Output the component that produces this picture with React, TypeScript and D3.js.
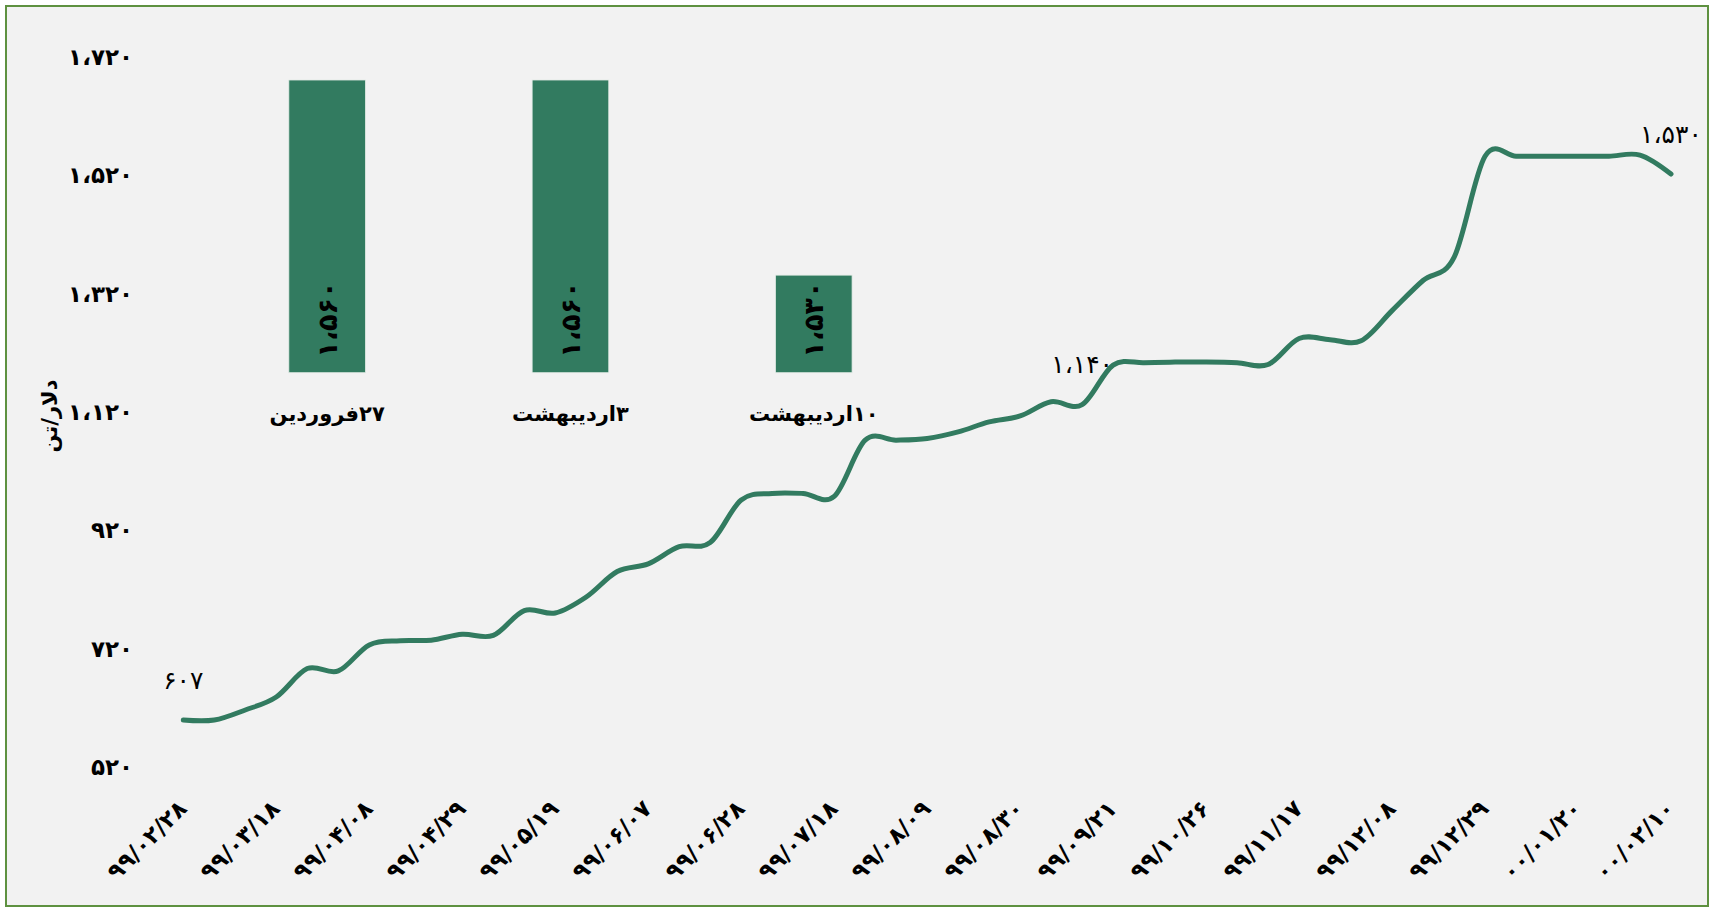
import React from "react";
import * as d3 from "d3";

// ---- data ----
const tickLabels = [
  "۹۹/۰۲/۲۸", "۹۹/۰۳/۱۸", "۹۹/۰۴/۰۸", "۹۹/۰۴/۲۹", "۹۹/۰۵/۱۹", "۹۹/۰۶/۰۷",
  "۹۹/۰۶/۲۸", "۹۹/۰۷/۱۸", "۹۹/۰۸/۰۹", "۹۹/۰۸/۳۰", "۹۹/۰۹/۲۱", "۹۹/۱۰/۲۶",
  "۹۹/۱۱/۱۷", "۹۹/۱۲/۰۸", "۹۹/۱۲/۲۹", "۰۰/۰۱/۲۰", "۰۰/۰۲/۱۰",
];
const tickEvery = 3;
const prices = [
  607, 607, 624, 646, 694, 690, 734, 741, 742, 752,
  750, 792, 788, 815, 858, 871, 900, 907, 979, 990,
  990, 985, 1080, 1080, 1083, 1094, 1111, 1121, 1145, 1140,
  1207, 1211, 1212, 1212, 1211, 1208, 1252, 1250, 1248, 1299,
  1350, 1389, 1560, 1560, 1560, 1560, 1560, 1562, 1530,
];
const labelledPoints = [0, 29, 48];
const yTicks = [520, 720, 920, 1120, 1320, 1520, 1720];
const yTitle = "دلار/تن";

const insetCategories = ["۲۷فروردین", "۳اردیبهشت", "۱۰اردیبهشت"];
const insetValues = [1560, 1560, 1530];

// ---- helpers ----
const faDigits = "۰۱۲۳۴۵۶۷۸۹";
const fa = (n: number) =>
  d3.format(",")(n).replace(/,/g, "،").replace(/\d/g, (d) => faDigits[+d]);

const W = 1711;
const H = 908;
const GREEN = "#327b60";
const FONT = "DejaVu Sans";

export default function App() {
  const x = d3
    .scaleLinear()
    .domain([0, prices.length - 1])
    .range([183.3, 1671]);
  const y = d3.scaleLinear().domain([520, 1720]).range([771.5, 61.6]);

  const line = d3
    .line<number>()
    .x((_, i) => x(i))
    .y((d) => y(d))
    .curve(d3.curveCatmullRom.alpha(0));

  const bx = d3
    .scaleBand<string>()
    .domain(insetCategories)
    .range([205.5, 935.4])
    .paddingInner(0.685)
    .paddingOuter(0.3425);
  const by = d3.scaleLinear().domain([1515, 1560]).range([372.7, 80]);

  return (
    <div style={{ position: "absolute", left: 0, top: 0 }}>
      <svg width={W} height={H} style={{ display: "block" }} fontFamily={FONT}>
        <rect x={0} y={0} width={W} height={H} fill="#ffffff" />
        <rect
          x={6}
          y={6}
          width={W - 9}
          height={H - 8}
          fill="#f2f2f2"
          stroke="#5e9140"
          strokeWidth={2}
        />

        {/* y tick labels */}
        {yTicks.map((t) => (
          <text
            key={t}
            x={133}
            y={y(t) - 4.5}
            textAnchor="end"
            dominantBaseline="central"
            fontSize={23}
            letterSpacing={1.5}
            fontWeight="bold"
            fill="#000"
          >
            {fa(t)}
          </text>
        ))}

        {/* y title */}
        <text
          transform={`translate(50,416) rotate(-90)`}
          textAnchor="middle"
          dominantBaseline="central"
          direction="rtl"
          fontSize={21}
          fontWeight="bold"
          fill="#000"
        >
          {yTitle}
        </text>

        {/* x tick labels */}
        {tickLabels.map((lab, k) => (
          <text
            key={lab}
            transform={`translate(${x(k * tickEvery) + 5},${810}) rotate(-45)`}
            textAnchor="end"
            fontSize={23}
            letterSpacing={3}
            fontWeight="bold"
            fill="#000"
          >
            {lab}
          </text>
        ))}

        {/* inset bars */}
        {insetCategories.map((c, i) => {
          const cx = (bx(c) as number) + bx.bandwidth() / 2;
          return (
            <g key={c}>
              <rect
                x={bx(c)}
                y={by(insetValues[i])}
                width={bx.bandwidth()}
                height={by(1515) - by(insetValues[i])}
                fill={GREEN}
                stroke="#e3ece7"
                strokeWidth={0.8}
              />
              <text
                transform={`translate(${cx},${by(1515) - 15}) rotate(-90)`}
                textAnchor="start"
                dominantBaseline="central"
                fontSize={27}
                letterSpacing={2}
                fontWeight="bold"
                fill="#000"
              >
                {fa(insetValues[i])}
              </text>
              <text
                x={cx}
                y={414}
                textAnchor="middle"
                dominantBaseline="central"
                direction="rtl"
                fontSize={21}
                fontWeight="bold"
                fill="#000"
              >
                {c}
              </text>
            </g>
          );
        })}

        {/* line */}
        <path
          d={line(prices) || ""}
          fill="none"
          stroke={GREEN}
          strokeWidth={5}
          strokeLinecap="round"
          strokeLinejoin="round"
        />

        {/* data labels */}
        {labelledPoints.map((i) => (
          <text
            key={i}
            x={x(i)}
            y={y(prices[i]) - 40}
            textAnchor="middle"
            dominantBaseline="central"
            fontSize={25}
            letterSpacing={2}
            fill="#000"
          >
            {fa(prices[i])}
          </text>
        ))}
      </svg>
    </div>
  );
}
